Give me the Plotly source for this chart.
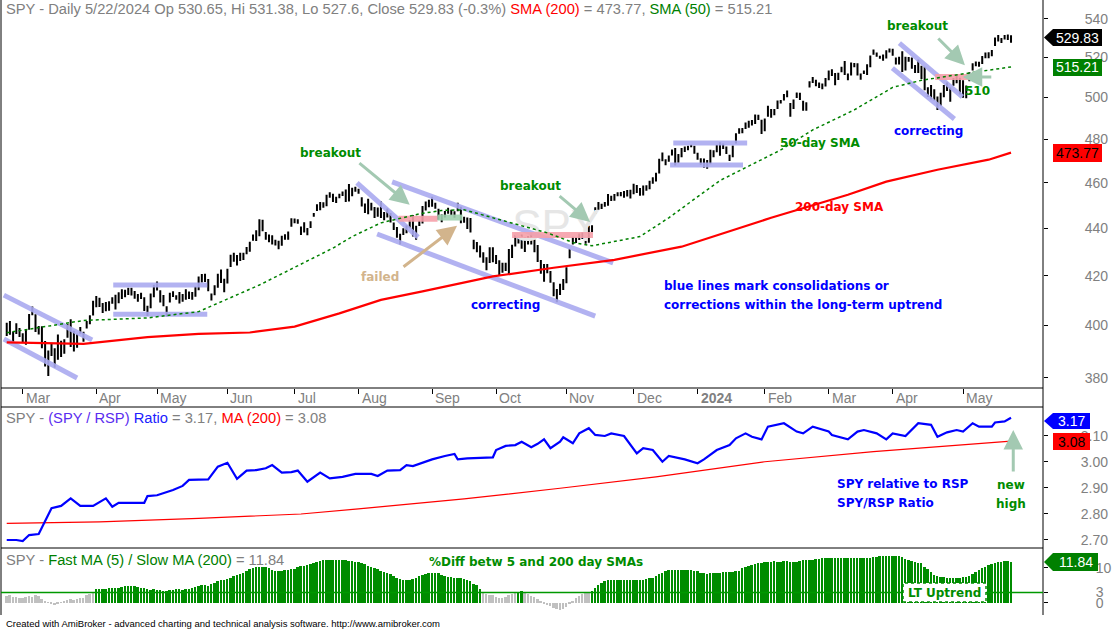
import math
import pandas as pd
import plotly.graph_objects as go

# Trading days shown: Feb 22 2023 .. May 22 2024
holidays = ["2023-04-07", "2023-05-29", "2023-06-19", "2023-07-04", "2023-09-04",
            "2023-11-23", "2023-12-25", "2024-01-01", "2024-01-15", "2024-02-19", "2024-03-29"]
days = pd.bdate_range("2023-02-22", "2024-05-22")
days = days[~days.isin(pd.to_datetime(holidays))]
day_idx = list(range(len(days)))

# SPY daily closes / highs / lows (one row per month)
close = [
    398.5, 400.7, 396.4, 397.7, 396.3,
    394.7, 397.8, 404.2, 404.5, 398.3, 399.1, 391.6, 385.9, 385.4, 391.7, 389.3, 396.1, 390.0, 393.7, 398.9, 392.1, 393.2, 395.8, 397.5, 396.5, 401.4, 403.7, 409.4,
    411.0, 408.7, 406.9, 408.9, 409.1, 409.2, 407.0, 412.9, 412.5, 413.9, 414.2, 414.1, 411.9, 412.2, 412.6, 406.1, 404.4, 412.4, 415.9,
    415.5, 410.8, 408.0, 405.1, 412.6, 412.9, 410.9, 412.9, 412.2, 411.6, 413.0, 410.6, 415.2, 419.2, 418.6, 418.8, 414.1, 411.1, 414.7, 420.0, 420.2, 417.9,
    421.8, 427.9, 427.1, 428.0, 426.6, 429.1, 429.9, 433.8, 436.7, 437.2, 442.6, 439.5, 437.2, 434.9, 436.5, 433.2, 431.4, 436.2, 436.4, 438.1, 443.3,
    443.8, 443.1, 439.7, 438.6, 439.7, 442.5, 446.0, 449.6, 449.3, 450.8, 454.2, 455.2, 452.2, 452.2, 454.2, 455.4, 455.5, 452.5, 456.9, 457.8,
    456.5, 450.1, 448.8, 446.8, 450.7, 448.8, 445.8, 445.9, 445.7, 448.1, 442.9, 439.6, 436.3, 436.5, 439.3, 438.2, 443.0, 436.9, 440.0, 442.8, 449.2, 451.0, 450.4,
    451.2, 449.2, 446.2, 444.85, 445.5, 448.45, 446.0, 446.5, 450.4, 443.4, 443.6, 442.7, 438.6, 431.4, 430.4, 432.2, 425.9, 426.1, 428.5, 427.5,
    427.3, 421.6, 424.7, 424.5, 429.5, 432.3, 434.5, 436.3, 433.7, 431.5, 436.0, 436.0, 430.2, 426.4, 421.2, 420.5, 423.6, 417.55, 412.55, 410.7, 415.6, 418.2,
    422.7, 430.8, 434.7, 435.7, 437.25, 437.6, 433.8, 440.6, 440.2, 448.7, 449.7, 450.2, 450.8, 454.3, 452.3, 453.3, 455.3, 454.5, 454.9, 454.6, 456.4,
    459.1, 456.7, 456.6, 454.8, 458.2, 460.2, 462.0, 464.1, 470.5, 472.0, 469.3, 472.0, 474.8, 468.3, 472.7, 473.65, 475.65, 476.5, 476.7, 475.3,
    472.65, 468.8, 467.3, 467.9, 474.6, 473.9, 476.6, 476.3, 476.7, 474.9, 472.3, 476.5, 482.4, 483.45, 484.9, 485.4, 488.0, 487.4, 491.3, 490.9, 482.9,
    489.2, 494.35, 492.55, 494.0, 498.1, 498.3, 501.2, 501.0, 494.1, 498.6, 502.0, 499.5, 496.8, 497.2, 507.5, 507.85, 506.0, 506.9, 506.3, 508.1,
    512.85, 512.3, 507.2, 509.75, 514.8, 511.7, 511.3, 516.8, 516.0, 514.95, 509.8, 512.9, 516.0, 520.5, 522.2, 521.2, 519.8, 518.8, 523.2, 523.1,
    522.2, 518.8, 519.4, 513.1, 518.4, 518.7, 519.3, 514.1, 518.0, 510.85, 504.45, 503.5, 500.55, 499.5, 495.2, 499.7, 505.65, 505.4, 503.5, 508.3, 510.1, 502.0,
    500.35, 505.0, 511.3, 516.6, 517.1, 517.2, 520.2, 520.8, 520.9, 523.3, 529.8, 528.7, 529.45, 530.06, 531.36, 529.83,
]
high = [
    401.1, 401.8, 397.7, 400.9, 399.1,
    397.0, 398.7, 404.4, 407.5, 404.5, 399.8, 399.7, 394.0, 390.4, 393.0, 391.2, 396.5, 394.1, 394.7, 400.6, 402.5, 398.0, 396.8, 399.4, 397.6, 401.6, 403.9, 409.7,
    411.7, 411.0, 408.9, 409.3, 409.6, 411.2, 412.3, 413.0, 414.5, 414.0, 415.1, 415.1, 413.8, 412.4, 413.1, 411.2, 407.8, 412.5, 416.0,
    417.6, 414.1, 412.2, 407.6, 413.1, 413.7, 412.0, 413.4, 412.6, 414.5, 413.6, 413.4, 415.5, 419.7, 420.7, 420.8, 418.7, 412.8, 416.1, 420.8, 422.6, 418.8,
    422.9, 428.7, 429.6, 428.6, 429.6, 429.6, 432.0, 433.9, 437.3, 439.1, 443.9, 443.6, 438.4, 437.3, 436.6, 435.1, 434.6, 436.8, 437.4, 438.3, 444.3,
    444.1, 443.9, 440.7, 442.6, 439.8, 443.0, 446.6, 450.4, 451.4, 451.3, 454.6, 455.8, 455.1, 453.7, 455.1, 456.1, 457.0, 459.4, 457.8, 458.2,
    457.3, 453.5, 450.8, 452.9, 450.9, 448.9, 449.0, 451.7, 447.0, 448.1, 446.6, 442.5, 440.5, 437.6, 440.0, 441.2, 443.5, 445.7, 441.0, 443.0, 449.4, 451.6, 452.4,
    453.7, 451.1, 448.5, 445.9, 447.5, 448.5, 448.0, 447.4, 451.1, 449.3, 445.0, 444.6, 444.4, 435.1, 434.1, 432.3, 429.8, 427.7, 431.9, 431.9,
    428.6, 426.4, 425.4, 425.4, 431.1, 432.9, 437.2, 436.6, 437.3, 436.0, 436.6, 438.1, 435.2, 432.8, 426.5, 424.8, 424.8, 421.9, 417.3, 414.6, 416.7, 418.5,
    423.5, 430.9, 436.3, 435.9, 437.4, 438.1, 438.4, 440.9, 441.3, 449.0, 451.4, 450.6, 451.4, 455.0, 454.2, 455.0, 455.5, 455.9, 456.3, 456.8, 456.8,
    459.6, 459.0, 457.6, 458.8, 458.9, 460.9, 462.2, 464.2, 470.8, 473.8, 470.7, 472.4, 474.9, 475.9, 473.0, 475.9, 476.6, 476.9, 477.55, 477.0,
    473.7, 471.2, 471.0, 470.4, 474.75, 474.9, 477.45, 478.6, 478.0, 476.6, 472.8, 477.1, 482.7, 485.2, 485.2, 488.0, 488.8, 489.1, 491.6, 491.6, 489.2,
    489.9, 496.0, 494.4, 494.3, 498.5, 498.7, 501.6, 503.5, 497.3, 499.0, 502.2, 502.3, 498.4, 497.4, 508.0, 510.1, 508.75, 507.2, 506.9, 509.7,
    513.3, 514.0, 512.1, 512.3, 515.0, 518.2, 511.9, 517.4, 517.2, 517.1, 511.9, 513.3, 516.3, 520.6, 524.1, 522.6, 520.9, 521.5, 523.2, 524.6,
    524.4, 520.0, 520.4, 523.2, 520.4, 520.2, 520.0, 516.2, 519.0, 515.8, 515.3, 505.1, 506.2, 504.1, 500.5, 502.4, 506.2, 507.4, 504.9, 509.6, 510.8, 509.8,
    508.6, 505.9, 512.5, 516.8, 517.9, 517.8, 520.4, 522.6, 522.7, 523.8, 530.1, 531.5, 529.5, 531.6, 531.5, 531.38,
]
low = [
    395.9, 396.4, 393.7, 396.7, 395.6,
    393.4, 392.6, 398.4, 404.2, 397.5, 396.5, 391.5, 384.3, 380.7, 388.3, 383.8, 386.8, 387.9, 389.1, 395.3, 391.8, 390.0, 391.4, 396.8, 393.7, 398.9, 400.5, 404.0,
    407.2, 407.3, 405.0, 405.6, 405.8, 408.6, 406.3, 408.8, 410.5, 411.2, 412.2, 411.9, 410.6, 409.4, 410.5, 405.9, 403.8, 406.8, 411.2,
    414.0, 409.1, 407.8, 403.7, 409.1, 411.3, 410.2, 408.7, 409.4, 410.2, 410.5, 410.2, 411.4, 414.1, 417.2, 417.4, 413.9, 409.9, 412.0, 415.1, 417.0, 413.3,
    416.8, 423.6, 425.8, 424.2, 426.1, 426.5, 428.9, 430.0, 434.6, 434.5, 436.5, 438.7, 435.0, 434.0, 433.0, 432.6, 431.2, 432.5, 435.1, 435.1, 440.6,
    442.1, 441.9, 437.1, 438.3, 437.0, 440.1, 444.9, 447.5, 447.8, 448.9, 449.5, 453.3, 451.4, 451.0, 453.1, 454.1, 451.4, 451.6, 454.0, 456.0,
    455.1, 449.4, 446.6, 446.0, 447.7, 444.4, 445.0, 444.4, 443.4, 444.6, 442.4, 439.4, 435.9, 433.0, 437.1, 437.8, 440.0, 436.9, 435.0, 440.9, 442.0, 447.7, 449.1,
    449.3, 448.5, 443.6, 442.6, 444.6, 446.3, 445.6, 444.5, 447.3, 442.1, 442.3, 439.7, 438.5, 431.2, 429.8, 427.6, 425.4, 422.3, 425.3, 425.6,
    424.8, 420.2, 421.2, 421.9, 420.6, 427.3, 432.2, 433.5, 431.2, 429.9, 433.0, 433.0, 429.9, 425.7, 420.9, 417.5, 421.0, 417.1, 411.6, 409.2, 412.2, 414.2,
    416.9, 427.2, 433.0, 433.7, 434.9, 435.4, 433.7, 433.8, 438.4, 446.1, 448.0, 448.3, 449.3, 449.8, 452.0, 452.0, 454.0, 454.0, 453.3, 453.8, 453.0,
    454.9, 455.4, 454.2, 454.6, 456.4, 457.1, 459.5, 460.6, 464.2, 469.8, 467.9, 469.5, 472.45, 467.9, 469.1, 471.6, 474.0, 474.9, 476.3, 473.3,
    470.5, 468.2, 467.0, 466.4, 468.4, 471.6, 473.9, 472.3, 475.4, 473.1, 469.9, 471.6, 478.0, 482.6, 482.8, 484.9, 485.4, 486.5, 487.2, 489.1, 482.7,
    483.8, 490.7, 490.2, 491.4, 494.4, 497.1, 498.5, 500.2, 490.7, 494.4, 499.8, 498.8, 493.6, 493.6, 504.9, 507.2, 505.5, 504.7, 504.1, 505.4,
    508.6, 510.7, 506.0, 508.7, 512.5, 511.1, 508.5, 510.9, 515.0, 510.9, 508.8, 511.6, 511.1, 515.1, 521.4, 520.4, 519.4, 518.4, 519.5, 522.6,
    520.9, 516.4, 516.5, 512.9, 513.4, 517.8, 514.3, 512.1, 512.2, 509.1, 503.6, 500.3, 499.1, 498.6, 493.9, 495.9, 500.2, 503.2, 498.0, 505.8, 507.1, 501.8,
    499.9, 499.7, 508.0, 513.4, 515.5, 515.3, 516.7, 519.6, 519.6, 520.6, 525.9, 528.5, 527.4, 529.2, 529.0, 527.6,
]

# moving averages (day number, value)
sma50_day = [0, 24, 44, 60, 79, 96, 102, 108, 117, 129, 136, 143, 154, 169, 177, 183, 198, 207, 223, 242, 252, 265, 277, 286, 296, 306, 314]
sma50 = [397.2, 402.0, 403.0, 405.5, 416.2, 427.5, 431.5, 436.4, 442.3, 446.2, 447.7, 448.0, 443.6, 438.0, 433.9, 432.5,
         436.4, 444.5, 461.0, 475.0, 484.4, 494.0, 505.0, 508.5, 511.0, 513.2, 515.21]
sma200_day = [0, 24, 44, 60, 76, 90, 104, 117, 130, 152, 171, 190, 211, 239, 263, 275, 291, 307, 314]
sma200 = [393.5, 392.9, 395.5, 396.8, 397.3, 399.6, 404.8, 410.2, 413.6, 419.7, 423.3, 426.6, 432.1, 444.5, 454.6,
          460.5, 465.9, 470.5, 473.77]

# SPY / RSP ratio and its 200-day MA
ratio_day = [0, 3, 5, 7, 10, 12, 14, 17, 20, 23, 27, 31, 33, 35, 43, 44, 47, 52, 55, 57, 63, 66, 69, 72, 75, 78, 81, 83,
             86, 89, 91, 94, 96, 98, 101, 105, 109, 114, 116, 119, 123, 125, 127, 131, 133, 137, 140, 141, 144, 152, 153,
             156, 159, 161, 164, 166, 168, 170, 173, 174, 177, 179, 182, 184, 187, 189, 193, 197, 199, 202, 205, 207, 212,
             216, 218, 222, 226, 228, 231, 233, 236, 238, 243, 247, 249, 252, 257, 258, 263, 266, 268, 272, 275, 277, 281,
             285, 289, 291, 294, 297, 299, 302, 304, 308, 309, 312, 314]
ratio = [2.700, 2.700, 2.696, 2.719, 2.723, 2.770, 2.822, 2.831, 2.860, 2.831, 2.831, 2.860, 2.828, 2.843, 2.843, 2.869,
         2.872, 2.892, 2.908, 2.931, 2.933, 2.982, 2.997, 2.935, 2.967, 2.969, 2.976, 2.988, 2.959, 2.961, 2.967, 2.924,
         2.943, 2.959, 2.937, 2.943, 2.954, 2.954, 2.946, 2.967, 2.969, 2.988, 2.984, 3.001, 3.010, 3.023, 3.031, 3.010,
         3.014, 3.018, 3.046, 3.062, 3.065, 3.078, 3.057, 3.070, 3.087, 3.053, 3.078, 3.095, 3.072, 3.110, 3.130, 3.104,
         3.100, 3.110, 3.100, 3.033, 3.053, 3.046, 3.001, 3.023, 3.010, 2.995, 3.010, 3.046, 3.065, 3.091, 3.110, 3.097,
         3.087, 3.136, 3.149, 3.117, 3.110, 3.136, 3.117, 3.104, 3.087, 3.117, 3.123, 3.110, 3.087, 3.110, 3.100, 3.149,
         3.143, 3.097, 3.114, 3.123, 3.117, 3.149, 3.136, 3.136, 3.152, 3.156, 3.170]
ratio_ma_day = [0, 29, 60, 92, 110, 143, 173, 203, 237, 271, 314]
ratio_ma = [2.764, 2.770, 2.783, 2.800, 2.820, 2.858, 2.899, 2.943, 3.001, 3.040, 3.080]

# % difference between 5 and 200 day SMAs (daily)
pct_diff = [
    2.0, 2.2, 1.8, 1.6, 1.5,
    1.4, 1.7, 2.0, 1.8, 2.2, 2.0, 1.2, 0.6, 0.2, -0.4, -0.6, -0.3, 0.1, 0.7, 0.9, 1.0, 0.8, 1.1, 1.3, 1.5, 2.2, 2.6, 2.9,
    3.9, 4.0, 4.0, 4.1, 4.2, 4.2, 4.3, 4.4, 4.6, 4.8, 4.9, 4.9, 4.8, 4.6, 4.4, 4.2, 4.0, 3.8, 3.9,
    3.7, 3.6, 3.5, 3.5, 3.6, 3.7, 3.9, 3.9, 3.8, 3.9, 4.0, 4.2, 4.6, 4.8, 5.0, 5.0, 4.9, 5.4, 5.8, 6.2, 6.5, 6.6,
    6.8, 7.2, 7.6, 8.0, 8.4, 8.7, 9.2, 9.7, 10.0, 10.2, 10.3, 10.3, 10.2, 10.0, 9.4, 9.1, 9.0, 9.1, 9.3, 9.4, 9.6,
    9.8, 10.2, 10.5, 10.6, 10.8, 11.0, 11.3, 11.7, 12.0, 12.2, 12.3, 12.3, 12.3, 12.3, 12.2, 12.3, 12.2, 12.0, 11.9, 11.8,
    11.6, 11.3, 11.0, 10.6, 10.4, 10.0, 9.6, 9.2, 8.8, 8.5, 8.2, 7.8, 7.2, 6.8, 6.6, 6.5, 6.6, 6.8, 7.2, 7.6, 8.0, 8.3, 8.5,
    8.6, 8.7, 8.5, 8.1, 7.7, 7.4, 7.3, 7.2, 7.1, 7.0, 6.8, 6.5, 6.2, 5.5, 5.0, 4.0, 2.8, 2.5, 2.3, 2.2,
    1.8, 1.5, 1.4, 1.6, 2.2, 2.6, 2.9, 3.2, 3.3, 2.9, 2.5, 2.0, 1.6, 1.2, 0.3, -0.2, -0.6, -1.0, -1.4, -1.8, -1.9, -1.7,
    -1.2, -0.4, 0.5, 1.3, 2.0, 2.5, 2.8, 2.9, 3.5, 4.2, 5.0, 5.7, 6.2, 6.5, 6.6, 6.7, 6.7, 6.7, 6.7, 6.6, 6.7,
    6.6, 6.6, 6.6, 6.7, 6.8, 7.0, 7.0, 7.6, 8.2, 8.6, 9.0, 9.3, 9.4, 9.4, 9.5, 9.5, 9.4, 9.4, 9.3, 9.2,
    9.0, 8.7, 8.5, 8.4, 8.5, 8.6, 8.6, 8.7, 8.8, 8.8, 8.9, 8.9, 9.0, 9.2, 9.9, 10.3, 10.6, 10.9, 11.1, 11.3, 11.5,
    11.7, 11.8, 11.8, 11.9, 11.8, 11.8, 11.9, 11.9, 11.8, 11.8, 11.7, 11.9, 12.2, 12.3, 12.3, 12.3, 12.5, 12.7, 12.8, 12.8,
    12.8, 12.9, 12.8, 12.8, 12.9, 12.9, 12.8, 12.9, 12.8, 12.8, 12.8, 12.9, 12.9, 12.8, 13.0, 13.2, 13.3, 13.4, 13.4, 13.4,
    13.4, 13.4, 13.3, 13.0, 12.6, 12.3, 12.0, 11.8, 11.5, 11.3, 10.4, 9.6, 8.8, 8.0, 7.6, 7.4, 7.3, 7.0, 7.0, 7.0, 7.1, 7.2,
    7.3, 7.4, 7.6, 8.2, 8.9, 9.5, 9.9, 10.4, 10.9, 11.2, 11.5, 11.6, 11.8, 12.1, 12.0, 11.84,
]
uptrend_level = 3

# hand-drawn study lines on the price pane: (day0, price0, day1, price1)
channels = [
    (-0.9, 412.1, 26.7, 394.4), (-0.9, 394.8, 22.0, 380.0),
    (33.3, 416.2, 62.7, 416.2), (33.3, 404.5, 62.7, 404.5),
    (109.5, 459.9, 128.6, 436.2), (115.8, 437.5, 184.0, 403.7), (120.5, 460.4, 189.6, 425.3),
    (208.4, 478.3, 231.5, 478.3), (207.4, 468.1, 230.2, 468.1),
    (279.1, 527.4, 298.8, 500.3), (276.9, 514.6, 296.3, 489.6),
]
resist_zones = [(122.5, 134.7, 444.1), (158.0, 183.3, 437.1), (290.3, 300.6, 510.1)]
support_zones = [(134.7, 142.5, 444.6)]

GRAY = "#808080"
GREEN = "#008c00"
AXFONT = "Liberation Sans"
NOTEFONT = "DejaVu Sans"


def px(x):
    return (x - 1) / 1042


def py(y):
    return (615 - y) / 615


fig = go.Figure()

# faint watermark
fig.add_trace(go.Scatter(x=[171.8], y=[439.3], mode="text", text=["SPY"],
                         textfont=dict(size=44, color="#e6e6e6", family=AXFONT),
                         xaxis="x", yaxis="y", hoverinfo="skip"))

for d0, p0, d1, p1 in channels:
    fig.add_trace(go.Scatter(x=[d0, d1], y=[p0, p1], mode="lines",
                             line=dict(color="rgba(170,170,240,0.9)", width=5),
                             xaxis="x", yaxis="y", hoverinfo="skip"))
for d0, d1, p in resist_zones:
    fig.add_trace(go.Scatter(x=[d0, d1], y=[p, p], mode="lines",
                             line=dict(color="rgba(245,160,170,0.9)", width=6),
                             xaxis="x", yaxis="y", hoverinfo="skip"))
for d0, d1, p in support_zones:
    fig.add_trace(go.Scatter(x=[d0, d1], y=[p, p], mode="lines",
                             line=dict(color="rgba(160,210,175,0.9)", width=6),
                             xaxis="x", yaxis="y", hoverinfo="skip"))

fig.add_trace(go.Ohlc(x=day_idx, open=close, high=high, low=low, close=close,
                      increasing=dict(line=dict(color="black", width=2)),
                      decreasing=dict(line=dict(color="black", width=2)),
                      tickwidth=0.3, xaxis="x", yaxis="y", hoverinfo="skip"))

fig.add_trace(go.Scatter(x=sma200_day, y=sma200, mode="lines",
                         line=dict(color="#ff0000", width=2.2), xaxis="x", yaxis="y", hoverinfo="skip"))
fig.add_trace(go.Scatter(x=sma50_day, y=sma50, mode="lines",
                         line=dict(color="#008000", width=1.5, dash="dot"), xaxis="x", yaxis="y", hoverinfo="skip"))

# ratio pane
fig.add_trace(go.Scatter(x=ratio_ma_day, y=ratio_ma, mode="lines",
                         line=dict(color="#ff0000", width=1.2), xaxis="x2", yaxis="y2", hoverinfo="skip"))
fig.add_trace(go.Scatter(x=ratio_day, y=ratio, mode="lines",
                         line=dict(color="#0000ff", width=2.2), xaxis="x2", yaxis="y2", hoverinfo="skip"))

# %diff histogram
bar_colors = [GREEN if v >= uptrend_level else "#c0c0c0" for v in pct_diff]
fig.add_trace(go.Bar(x=day_idx, y=pct_diff, marker=dict(color=bar_colors, line=dict(width=0)),
                     width=0.62, xaxis="x3", yaxis="y3", hoverinfo="skip"))

# month ticks
month_starts = [i for i in range(1, len(days)) if days[i].month != days[i - 1].month]

fig.update_layout(
    width=1112, height=629,
    margin=dict(l=1, r=69, t=0, b=14),
    paper_bgcolor="white", plot_bgcolor="white",
    showlegend=False, hovermode=False, bargap=0,
    xaxis=dict(domain=[0, 1], range=[-1.79, 324.0], anchor="y", showticklabels=False,
               ticks="outside", tickvals=month_starts, ticklen=5, tickcolor="black",
               showgrid=False, zeroline=False, rangeslider=dict(visible=False)),
    xaxis2=dict(domain=[0, 1], matches="x", anchor="y2", showticklabels=False, ticks="",
                showgrid=False, zeroline=False),
    xaxis3=dict(domain=[0, 1], matches="x", anchor="y3", showticklabels=False, ticks="",
                showgrid=False, zeroline=False),
    yaxis=dict(domain=[py(388), 1], type="log", range=[2.57553, 2.74043], side="right", anchor="x",
               tickvals=[380, 400, 420, 440, 460, 480, 500, 520, 540], ticks="outside", ticklen=4,
               tickcolor="black", tickfont=dict(family=AXFONT, size=14, color=GRAY),
               ticklabelstandoff=34, showgrid=False, zeroline=False),
    yaxis2=dict(domain=[py(548), py(407)], range=[2.6692, 3.2115], side="right", anchor="x2",
                tickvals=[2.7, 2.8, 2.9, 3.0, 3.1], tickformat=".2f", ticks="outside", ticklen=4,
                tickcolor="black", tickfont=dict(family=AXFONT, size=14, color=GRAY),
                ticklabelstandoff=30, showgrid=False, zeroline=False),
    yaxis3=dict(domain=[0, py(548)], range=[-3.43, 15.71], side="right", anchor="x3",
                tickvals=[0, 3, 10], ticks="outside", ticklen=4, tickcolor="black",
                tickfont=dict(family=AXFONT, size=14, color=GRAY),
                ticklabelstandoff=45, showgrid=False, zeroline=False),
)

shapes = []
# pane borders
for x in (0, 1):
    shapes.append(dict(type="line", xref="paper", yref="paper", x0=x, x1=x, y0=0, y1=1,
                       line=dict(color="black", width=1)))
for y in (388, 407, 548):
    shapes.append(dict(type="line", xref="paper", yref="paper", x0=0, x1=1, y0=py(y), y1=py(y),
                       line=dict(color="black", width=1)))
# uptrend threshold line
shapes.append(dict(type="line", xref="paper", yref="y3", x0=0, x1=1, y0=uptrend_level, y1=uptrend_level,
                   line=dict(color="#009900", width=1.5)))
# LT Uptrend box
shapes.append(dict(type="rect", xref="paper", yref="paper", x0=px(903), x1=px(986), y0=py(602), y1=py(583),
                   fillcolor="white", line=dict(color=GREEN, width=1.5, dash="dot")))

annotations = []

# value boxes on the right axis
boxes = [
    ("529.83", 37.5, 1102, 8.5, "black", "white", True),
    ("515.21", 67.5, 1102, 8.5, "#008000", "white", False),
    ("473.77", 153, 1102, 9, "#ff0000", "black", False),
    ("3.17", 421, 1090, 8, "#0000ff", "white", True),
    ("3.08", 441.5, 1090, 8.5, "#ff0000", "black", False),
    ("11.84", 562, 1098, 9, "#008000", "white", True),
]
for txt, yc, xr, h, bg, fg, pointer in boxes:
    xl = 1053
    if pointer:
        path = (f"M {px(1044)},{py(yc)} L {px(xl)},{py(yc - h)} L {px(xr)},{py(yc - h)} "
                f"L {px(xr)},{py(yc + h)} L {px(xl)},{py(yc + h)} Z")
    else:
        path = (f"M {px(xl)},{py(yc - h)} L {px(xr)},{py(yc - h)} "
                f"L {px(xr)},{py(yc + h)} L {px(xl)},{py(yc + h)} Z")
    shapes.append(dict(type="path", xref="paper", yref="paper", path=path, fillcolor=bg,
                       line=dict(width=0)))
    annotations.append(dict(xref="paper", yref="paper", x=px((xl + xr) / 2), y=py(yc), text=txt,
                            xanchor="center", yanchor="middle", showarrow=False,
                            font=dict(family=AXFONT, size=14, color=fg)))

# pane titles
title_font = dict(family=AXFONT, size=14.7, color=GRAY)
annotations.append(dict(xref="paper", yref="paper", x=px(4), y=py(9), xanchor="left", yanchor="middle",
                        showarrow=False, font=title_font,
                        text="SPY - Daily 5/22/2024 Op 530.65, Hi 531.38, Lo 527.6, Close 529.83 (-0.3%) "
                             "<span style='color:#ff0000'>SMA (200)</span> = 473.77, "
                             "<span style='color:#008000'>SMA (50)</span> = 515.21"))
annotations.append(dict(xref="paper", yref="paper", x=px(4), y=py(418), xanchor="left", yanchor="middle",
                        showarrow=False, font=title_font,
                        text="SPY - <span style='color:#5a2cf0'>(SPY / RSP)</span> "
                             "<span style='color:#2020ff'>Ratio</span> = 3.17, "
                             "<span style='color:#ff0000'>MA (200)</span> = 3.08"))
annotations.append(dict(xref="paper", yref="paper", x=px(4), y=py(560), xanchor="left", yanchor="middle",
                        showarrow=False, font=title_font,
                        text="SPY - <span style='color:#008000'>Fast MA (5) / Slow MA (200)</span> = 11.84"))

# month labels
for i in month_starts:
    lab = days[i].strftime("%b") if days[i].month != 1 else "<b>%d</b>" % days[i].year
    annotations.append(dict(xref="x", yref="paper", x=i, y=py(398), xanchor="left", yanchor="middle",
                            xshift=1, showarrow=False, text=lab,
                            font=dict(family=AXFONT, size=14, color=GRAY)))

# footer
annotations.append(dict(xref="paper", yref="paper", x=px(4), y=py(623), xanchor="left", yanchor="middle",
                        showarrow=False,
                        text="Created with AmiBroker - advanced charting and technical analysis software. "
                             "http://www.amibroker.com",
                        font=dict(family=AXFONT, size=9.5, color="black")))

# chart notes on the price pane
BLUE = "#0000ff"
TAN = "#d2b48c"
notes = [
    ("breakout", 101.2, 473.7, GREEN), ("failed", 116.8, 419.5, TAN),
    ("breakout", 163.7, 458.6, GREEN), ("correcting", 155.8, 408.1, BLUE),
    ("50-day SMA", 254.4, 478.3, GREEN), ("200-day SMA", 260.3, 449.3, "#ff0000"),
    ("breakout", 284.7, 536.3, GREEN), ("correcting", 288.1, 483.9, BLUE),
    ("510", 303.4, 503.2, GREEN),
]
for txt, d, p, col in notes:
    annotations.append(dict(xref="x", yref="y", x=d, y=math.log10(p), text="<b>%s</b>" % txt,
                            xanchor="center", showarrow=False,
                            font=dict(family=NOTEFONT, size=12, color=col)))
for txt, p in [("blue lines mark consolidations or", 415.8),
               ("corrections within the long-term uptrend", 408.1)]:
    annotations.append(dict(xref="x", yref="y", x=205.0, y=math.log10(p), xanchor="left",
                            text="<b>%s</b>" % txt, showarrow=False,
                            font=dict(family=NOTEFONT, size=12, color=BLUE)))

# arrows on the price pane (tail day, tail price, head day, head price, colour)
ARROW = "#a3c9b2"
price_arrows = [
    (109.8, 469.5, 126.0, 450.2, ARROW), (172.4, 454.6, 182.4, 442.7, ARROW),
    (290.8, 530.5, 299.6, 516.1, ARROW), (308.3, 510.1, 298.9, 510.1, ARROW),
    (123.6, 423.2, 140.8, 441.0, TAN),
]
for d0, p0, d1, p1, col in price_arrows:
    annotations.append(dict(xref="x", yref="y", axref="x", ayref="y", x=d1, y=math.log10(p1),
                            ax=d0, ay=math.log10(p0), text="", showarrow=True, arrowhead=2,
                            arrowsize=1.3, arrowwidth=3, arrowcolor=col, standoff=0))

# ratio pane notes
for txt, r in [("SPY relative to RSP", 2.915), ("SPY/RSP Ratio", 2.842)]:
    annotations.append(dict(xref="x2", yref="y2", x=259.0, y=r, xanchor="left", text="<b>%s</b>" % txt,
                            showarrow=False, font=dict(family=NOTEFONT, size=12, color=BLUE)))
for txt, r in [("new", 2.912), ("high", 2.838)]:
    annotations.append(dict(xref="x2", yref="y2", x=314.0, y=r, text="<b>%s</b>" % txt, xanchor="center",
                            showarrow=False, font=dict(family=NOTEFONT, size=12, color=GREEN)))
annotations.append(dict(xref="x2", yref="y2", axref="x2", ayref="y2", x=314.7, y=3.123, ax=314.7, ay=2.958,
                        text="", showarrow=True, arrowhead=2, arrowsize=1.3, arrowwidth=3,
                        arrowcolor=ARROW, standoff=0))

# histogram pane notes
annotations.append(dict(xref="x3", yref="y3", x=165.5, y=11.7, text="<b>%Diff betw 5 and 200 day SMAs</b>",
                        xanchor="center", showarrow=False, font=dict(family=NOTEFONT, size=12, color=GREEN)))
annotations.append(dict(xref="paper", yref="paper", x=px(944.5), y=py(592.5), text="<b>LT Uptrend</b>",
                        xanchor="center", yanchor="middle", showarrow=False,
                        font=dict(family=NOTEFONT, size=12, color=GREEN)))

fig.update_layout(shapes=shapes, annotations=annotations)
fig.write_html("out.html", config={"displayModeBar": False},
               post_script="document.body.style.margin='0px';document.body.style.overflow='hidden';")
